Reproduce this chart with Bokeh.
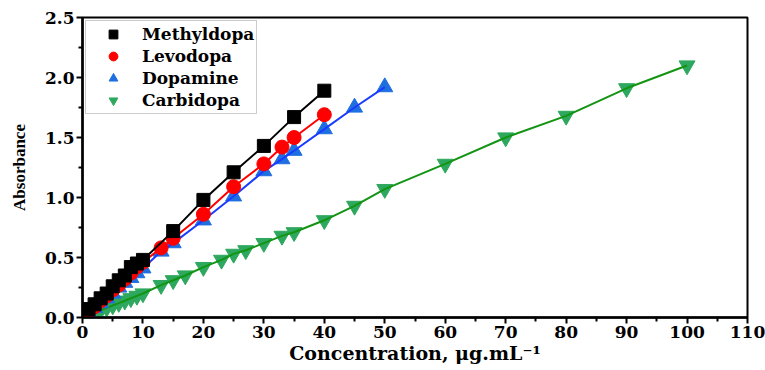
from bokeh.plotting import figure
from bokeh.models import Legend, LegendItem, Range1d, FixedTicker, NumeralTickFormatter
from bokeh.embed import file_html
from bokeh.resources import INLINE

# Data
methyldopa_x = [1, 2, 3, 4, 5, 6, 7, 8, 9, 10, 15, 20, 25, 30, 35, 40]
methyldopa_y = [0.07, 0.11, 0.16, 0.20, 0.26, 0.31, 0.35, 0.42, 0.45, 0.48, 0.72, 0.98, 1.21, 1.43, 1.67, 1.89]

levodopa_x = [1, 2, 3, 4, 5, 6, 7, 8, 9, 10, 13, 15, 20, 25, 30, 33, 35, 40]
levodopa_y = [0.05, 0.09, 0.14, 0.18, 0.23, 0.27, 0.32, 0.37, 0.42, 0.46, 0.58, 0.66, 0.86, 1.09, 1.28, 1.42, 1.50, 1.69]

dopamine_x = [1, 2, 3, 4, 5, 6, 7, 8, 9, 10, 13, 15, 20, 25, 30, 33, 35, 40, 45, 50]
dopamine_y = [0.04, 0.08, 0.12, 0.16, 0.20, 0.25, 0.29, 0.33, 0.37, 0.41, 0.55, 0.62, 0.81, 1.01, 1.22, 1.32, 1.39, 1.57, 1.75, 1.92]

carbidopa_x = [1, 2, 3, 4, 5, 6, 7, 8, 9, 10, 13, 15, 17, 20, 23, 25, 27, 30, 33, 35, 40, 45, 50, 60, 70, 80, 90, 100]
carbidopa_y = [0.02, 0.04, 0.06, 0.08, 0.10, 0.12, 0.14, 0.16, 0.18, 0.20, 0.27, 0.31, 0.35, 0.42, 0.48, 0.53, 0.56, 0.62, 0.68, 0.71, 0.81, 0.93, 1.07, 1.28, 1.50, 1.68, 1.91, 2.10]

x_ticks = [0, 10, 20, 30, 40, 50, 60, 70, 80, 90, 100, 110]
y_ticks = [0.0, 0.5, 1.0, 1.5, 2.0, 2.5]

WIDE = "DejaVu Serif"
TIMES = "Liberation Serif"

p = figure(width=765, height=370, output_backend="svg", toolbar_location=None,
           x_range=Range1d(0, 110), y_range=Range1d(0, 2.5),
           min_border_left=82, min_border_right=18, min_border_top=17, min_border_bottom=53)
p.grid.visible = False
p.outline_line_color = "black"
p.outline_line_width = 2
p.background_fill_color = "white"
p.border_fill_color = "white"

series = [
    ("Carbidopa", carbidopa_x, carbidopa_y, "inverted_triangle", "#2EA85E", "#139413", 16),
    ("Dopamine", dopamine_x, dopamine_y, "triangle", "#1F6FE0", "#1A3CFF", 16),
    ("Levodopa", levodopa_x, levodopa_y, "circle", "#FF0000", "#FF0000", 14),
    ("Methyldopa", methyldopa_x, methyldopa_y, "square", "#000000", "#000000", 13),
]

items = {}
for name, xs, ys, marker, mcol, lcol, sz in series:
    r = p.scatter(xs, ys, marker=marker, size=sz, fill_color=mcol, line_color=mcol)
    p.line(xs, ys, line_color=lcol, line_width=2)
    items[name] = r

legend = Legend(items=[LegendItem(label=n, renderers=[items[n]]) for n in
                       ["Methyldopa", "Levodopa", "Dopamine", "Carbidopa"]],
                location="top_left")
legend.label_text_font = WIDE
legend.label_text_font_style = "bold"
legend.label_text_font_size = "17px"
legend.label_text_color = "black"
legend.border_line_color = "#999999"
legend.border_line_width = 1
legend.margin = 3
legend.padding = 2
legend.spacing = 0
legend.label_height = 19
legend.glyph_height = 22
legend.glyph_width = 50
legend.label_standoff = 4
p.add_layout(legend)

for ax in (p.xaxis[0], p.yaxis[0]):
    ax.axis_line_width = 2.5
    ax.axis_line_color = "black"
    ax.major_tick_line_color = "black"
    ax.minor_tick_line_color = "black"
    ax.major_tick_line_width = 2
    ax.minor_tick_line_width = 2
    ax.major_tick_out = 6
    ax.major_tick_in = 0
    ax.minor_tick_out = 4
    ax.minor_tick_in = 0
    ax.major_label_text_font = WIDE
    ax.major_label_text_font_style = "bold"
    ax.major_label_text_font_size = "17px"
    ax.major_label_text_color = "black"
    ax.major_label_standoff = 2
    ax.axis_label_text_font_style = "bold"
    ax.axis_label_text_color = "black"

p.xaxis.ticker = FixedTicker(ticks=x_ticks, minor_ticks=list(range(5, 110, 10)))
p.yaxis.ticker = FixedTicker(ticks=y_ticks, minor_ticks=[0.25, 0.75, 1.25, 1.75, 2.25])
p.yaxis.formatter = NumeralTickFormatter(format="0.0")
p.xaxis.axis_label = "Concentration, μg.mL⁻¹"
p.xaxis.axis_label_text_font = WIDE
p.xaxis.axis_label_text_font_size = "19px"
p.xaxis.axis_label_standoff = 1
p.yaxis.axis_label = "Absorbance"
p.yaxis.axis_label_text_font = TIMES
p.yaxis.axis_label_text_font_size = "17px"
p.yaxis.axis_label_standoff = 13

open("out.html", "w").write(file_html(p, INLINE))
